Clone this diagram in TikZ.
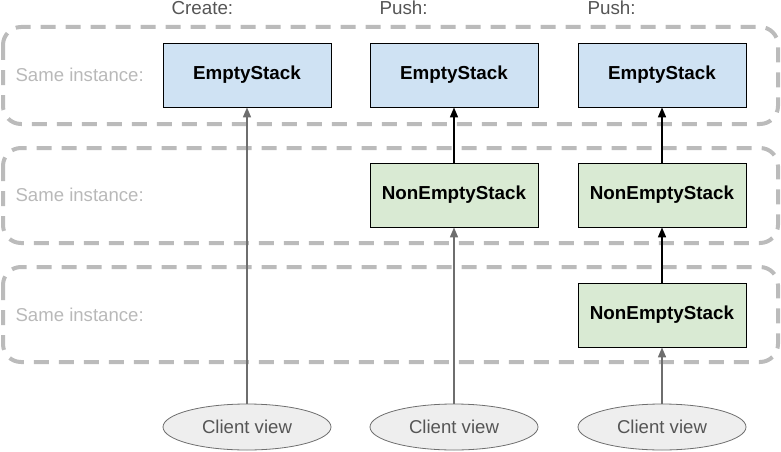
\documentclass[tikz,border=0pt]{standalone}
\usepackage{fontspec}
\setmainfont{Liberation Sans}
\usetikzlibrary{shapes.geometric}
\usetikzlibrary{arrows.meta, positioning}
\definecolor{groupgray}{RGB}{187, 187, 187}
\definecolor{labelgray}{RGB}{185, 185, 185}
\definecolor{headgray}{RGB}{85, 85, 85}
\definecolor{emptyblue}{RGB}{207, 226, 243}
\definecolor{nonemptygreen}{RGB}{217, 234, 211}
\definecolor{viewgray}{RGB}{238, 238, 238}
\definecolor{refgray}{RGB}{110, 110, 110}

\begin{document}
\begin{tikzpicture}[x=1pt, y=-1pt,
    group/.style={draw=groupgray, line width=4pt, dash pattern=on 15pt off 10pt, rounded corners=18pt},
    samelabel/.style={text=labelgray, font=\fontsize{18.6}{21}\selectfont, anchor=west},
    header/.style={text=headgray, font=\fontsize{18.8}{21}\selectfont, anchor=west},
    stackbox/.style={draw=black, line width=0.8pt, minimum width=168pt, minimum height=64pt, font=\fontsize{18.8}{22}\selectfont\bfseries},
    emptybox/.style={stackbox, fill=emptyblue},
    nonemptybox/.style={stackbox, fill=nonemptygreen},
    clientview/.style={ellipse, draw=refgray, line width=0.8pt, fill=viewgray, minimum width=168pt, minimum height=46pt, inner sep=0pt, text=headgray, font=\fontsize{18.6}{21}\selectfont},
    ref/.style={-{Triangle[length=10pt, width=8pt]}, draw=refgray, line width=1.6pt},
    link/.style={-{Triangle[length=10pt, width=8pt]}, draw=black, line width=1.6pt}]
        \useasboundingbox (0,0) rectangle (781,452);

        % Draw the instance groups
        \draw[group] (3,27) rectangle (778,124);
        \draw[group] (3,148) rectangle (778,243);
        \draw[group] (3,267) rectangle (778,362);

        % Add labels
        \node[samelabel] (same1) at (12,75) {Same instance:};
        \node[samelabel] (same2) at (12,195) {Same instance:};
        \node[samelabel] (same3) at (12,315) {Same instance:};

        \node[header] (create) at (168,8) {Create:};
        \node[header] (push1) at (376,8) {Push:};
        \node[header] (push2) at (584,8) {Push:};

        % Draw the stacks
        \node[emptybox] (empty1) at (247,75) {EmptyStack};
        \node[emptybox] (empty2) at (454,75) {EmptyStack};
        \node[emptybox] (empty3) at (662,75) {EmptyStack};
        \node[nonemptybox] (nonempty2) at (454,195) {NonEmptyStack};
        \node[nonemptybox] (nonempty3) at (662,195) {NonEmptyStack};
        \node[nonemptybox] (nonempty3b) at (662,315) {NonEmptyStack};

        % Draw client views
        \node[clientview] (view1) at (247,427) {Client view};
        \node[clientview] (view2) at (454,427) {Client view};
        \node[clientview] (view3) at (662,427) {Client view};

        % Draw references
        \draw[ref] (view1) -- (empty1);
        \draw[ref] (view2) -- (nonempty2);
        \draw[ref] (view3) -- (nonempty3b);
        \draw[link] (nonempty2) -- (empty2);
        \draw[link] (nonempty3) -- (empty3);
        \draw[link] (nonempty3b) -- (nonempty3);
    \end{tikzpicture}
\end{document}
